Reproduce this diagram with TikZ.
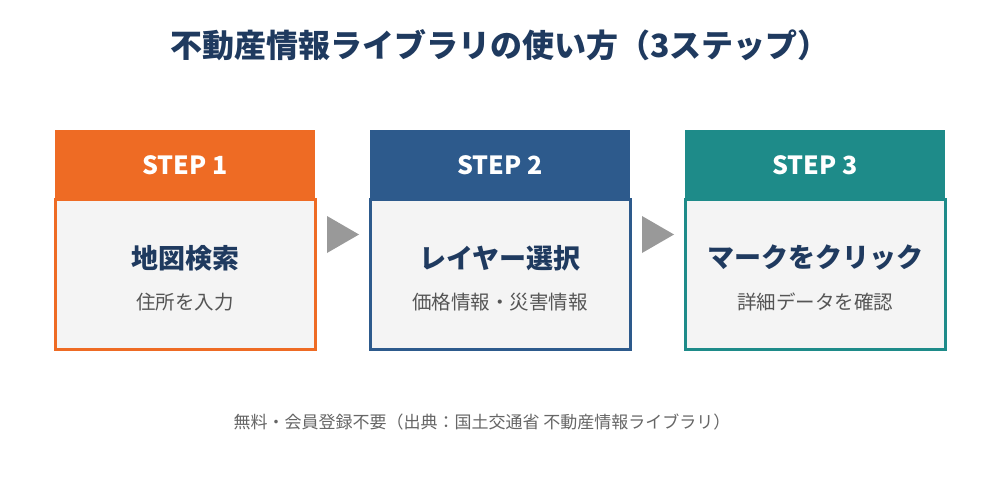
\documentclass[tikz,border=0pt]{standalone}
\usepackage{fontspec}
\setmainfont{Noto Sans CJK JP}
\definecolor{cOrange}{HTML}{EE6B24}
\definecolor{cBlue}{HTML}{2D5A8C}
\definecolor{cTeal}{HTML}{1E8B89}
\definecolor{cNavy}{HTML}{1F3A5F}
\definecolor{cBody}{HTML}{F4F4F4}
\definecolor{cSub}{HTML}{555555}
\definecolor{cFoot}{HTML}{666666}
\definecolor{cArrow}{HTML}{999999}
\tikzset{
  hdr/.style={fill=#1, draw=none, minimum width=260pt, minimum height=69pt, inner sep=0pt, outer sep=0pt, anchor=north west},
  bodybox/.style={fill=cBody, draw=#1, line width=3pt, minimum width=260pt, minimum height=150pt, inner sep=0pt, outer sep=0pt, anchor=north west},
  steptxt/.style={text=white, font=\fontsize{25}{28}\selectfont\bfseries},
  maintxt/.style={text=cNavy, font=\fontsize{27}{30}\selectfont\bfseries},
  subtxt/.style={text=cSub, font=\fontsize{19.5}{22}\selectfont},
  tri/.style={fill=cArrow, draw=none}
}
\begin{document}
\begin{tikzpicture}[x=1pt,y=-1pt]
\useasboundingbox[fill=white] (0,0) rectangle (1000,500);
\node[text=cNavy, font=\fontsize{32}{36}\selectfont\bfseries] (title) at (500,45) {不動産情報ライブラリの使い方（3ステップ）};
% boxes
\node[bodybox=cOrange] (b1) at (55,199.5) {};
\node[hdr=cOrange] (h1) at (55,130) {};
\node[bodybox=cBlue] (b2) at (370,199.5) {};
\node[hdr=cBlue] (h2) at (370,130) {};
\node[bodybox=cTeal] (b3) at (685,199.5) {};
\node[hdr=cTeal] (h3) at (685,130) {};
% header texts
\node[steptxt] (s1) at (185,165) {STEP 1};
\node[steptxt] (s2) at (500,165) {STEP 2};
\node[steptxt] (s3) at (815,165) {STEP 3};
% main texts
\node[maintxt] (m1) at (185,258) {地図検索};
\node[maintxt] (m2) at (500,258) {レイヤー選択};
\node[maintxt] (m3) at (815,258) {マークをクリック};
% sub texts
\node[subtxt] (t1) at (185,302) {住所を入力};
\node[subtxt] (t2) at (500,302) {価格情報・災害情報};
\node[subtxt] (t3) at (815,302) {詳細データを確認};
% arrows
\coordinate (a1) at (327,216);
\coordinate (a2) at (642,216);
\fill[tri] (a1) -- ++(0,37) -- ++(32,-18.5) -- cycle;
\fill[tri] (a2) -- ++(0,37) -- ++(32,-18.5) -- cycle;
% footer
\node[text=cFoot, font=\fontsize{17}{20}\selectfont] (foot) at (482,422) {無料・会員登録不要（出典：国土交通省 不動産情報ライブラリ）};
\end{tikzpicture}
\end{document}
